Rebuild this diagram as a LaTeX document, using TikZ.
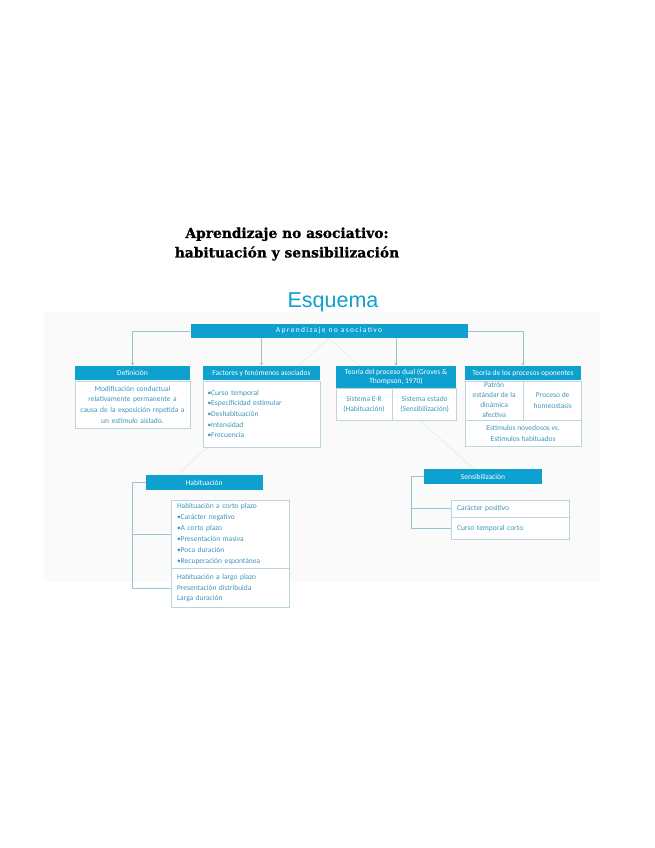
\documentclass[tikz,border=0pt]{standalone}
\usepackage{fontspec}
\usepackage{xcolor}
\usepackage{tikz}
\usetikzlibrary{arrows.meta,positioning,backgrounds}
\newfontfamily\cuerpo{Carlito}
\newfontfamily\espaciada[LetterSpace=18]{Carlito}
\newfontfamily\titfont[FakeBold=1]{DejaVu Serif Bold}
\newfontfamily\esqfont{Liberation Sans}
\definecolor{azul}{RGB}{14,160,206}
\definecolor{texto}{RGB}{62,150,186}
\definecolor{borde}{RGB}{188,214,222}
\definecolor{linea}{RGB}{150,196,212}

\begin{document}
\begin{tikzpicture}[
			x=1pt, y=-1pt,
			node distance=0pt,
			hdr/.style={rectangle, fill=azul, text=white, font=\cuerpo\fontsize{7.5}{8.8}\selectfont, minimum height=14.5pt, inner sep=1pt, align=center},
			cell/.style={rectangle, draw=borde, line width=0.6pt, fill=white, text=texto, font=\cuerpo\fontsize{7.5}{10.6}\selectfont, inner xsep=4pt, inner ysep=0pt},
			conn/.style={draw=linea, line width=0.7pt},
			arr/.style={conn, -{Latex[length=3pt,width=3.5pt]}},
			faint/.style={draw=linea!35, line width=0.5pt}
			]
			\useasboundingbox (0,0) rectangle (655,848);
			\node[font=\titfont\fontsize{13.8}{19.5}\selectfont, align=center, inner sep=0pt] (titulo) at (287,244) {Aprendizaje no asociativo:\\habituación y sensibilización};
			\node[font=\esqfont\fontsize{21.5}{24}\selectfont, text=azul, anchor=base] (esquema) at (333,307) {Esquema};
			\node[hdr, minimum width=277pt, minimum height=14pt, font=\espaciada\fontsize{7.5}{8}\selectfont] (raiz) at (329,331) {Aprendizaje no asociativo};

			\node[hdr, minimum width=115pt] (defh) at (132.5,373.2) {Definición};
			\node[cell, below=of defh, minimum height=47.5pt, text width=109pt, inner xsep=3pt, align=center] (defc) {Modificación conductual\\relativamente permanente a\\causa de la exposición repetida a\\un estímulo aislado.};
			\node[hdr, minimum width=117pt] (fach) at (261.5,373.2) {Factores y fenómenos asociados};
			\node[cell, below=of fach, minimum height=66pt, text width=108pt, inner xsep=4.5pt, align=left] (facc) {•Curso temporal\\•Especificidad estimular\\•Deshabituación\\•Intensidad\\•Frecuencia};
			\node[hdr, minimum width=120pt, minimum height=22pt] (dualh) at (396,377) {Teoría del proceso dual (Groves \&\\Thompson, 1970)};
			\node[cell, anchor=north west, minimum width=56pt, minimum height=32pt, inner xsep=1pt, align=center] (duala) at (dualh.south west) {Sistema E-R\\(Habituación)};
			\node[cell, anchor=north west, minimum width=64pt, minimum height=32pt, inner xsep=1pt, align=center] (dualb) at (duala.north east) {Sistema estado\\(Sensibilización)};
			\node[hdr, minimum width=116pt] (opoh) at (523,373.2) {Teoría de los procesos oponentes};
			\node[cell, anchor=north west, minimum width=58pt, minimum height=39pt, inner xsep=1pt, font=\cuerpo\fontsize{7.5}{10}\selectfont, align=center] (opoa) at (opoh.south west) {Patrón\\estándar de la\\dinámica\\afectiva};
			\node[cell, anchor=north west, minimum width=58pt, minimum height=39pt, inner xsep=1pt, align=center] (opob) at (opoa.north east) {Proceso de\\homeostasis};
			\node[cell, anchor=north west, minimum width=116pt, minimum height=26pt, align=center] (opoc) at (opoa.south west) {Estímulos novedosos vs.\\Estímulos habituados};

			\node[hdr, minimum width=117pt, minimum height=15pt] (habh) at (204.2,482.5) {Habituación};
			\node[cell, minimum height=68pt, text width=107pt, inner xsep=5.3pt, align=left, font=\cuerpo\fontsize{7.5}{10.9}\selectfont] (habc) at (230.5,534) {Habituación a corto plazo\\•Carácter negativo\\•A corto plazo\\•Presentación masiva\\•Poca duración\\•Recuperación espontánea};
			\node[cell, below=of habc, minimum height=39pt, text width=107pt, inner xsep=5.3pt, align=left, font=\cuerpo\fontsize{7.5}{10.9}\selectfont] (habl) {Habituación a largo plazo\\Presentación distribuida\\Larga duración};
			\node[hdr, minimum width=118pt, minimum height=14.7pt] (senh) at (483,476.7) {Sensibilización};
			\node[cell, minimum height=17pt, text width=107pt, inner xsep=5.3pt, align=left] (senp) at (510.5,508.5) {Carácter positivo};
			\node[cell, below=of senp, minimum height=21.5pt, text width=107pt, inner xsep=5.3pt, align=left] (senc) {Curso temporal corto};

			\draw[arr] (raiz.west) -| (defh.north);
			\draw[arr] (raiz.east) -| (opoh.north);
			\draw[arr] (raiz.south -| fach.north) -- (fach.north);
			\draw[arr] (raiz.south -| dualh.north) -- (dualh.north);
			\coordinate (hx) at ([xshift=-13pt]habh.west);
			\draw[conn] (habh.west) -- (hx) |- (habl.west);
			\draw[conn] (hx) |- (habc.west);
			\coordinate (sx) at ([xshift=-12.3pt]senh.west);
			\draw[conn] (senh.west) -- (sx) |- (senc.west);
			\draw[conn] (sx) |- (senp.west);
			\begin{scope}[on background layer]
				\fill[black!2] (44,312) rectangle (600,582);
				\draw[faint] (raiz.south) -- ([xshift=-27pt]habh.north);
				\draw[faint] (raiz.south) -- ([xshift=-9pt]senh.north);
			\end{scope}
		\end{tikzpicture}
\end{document}
